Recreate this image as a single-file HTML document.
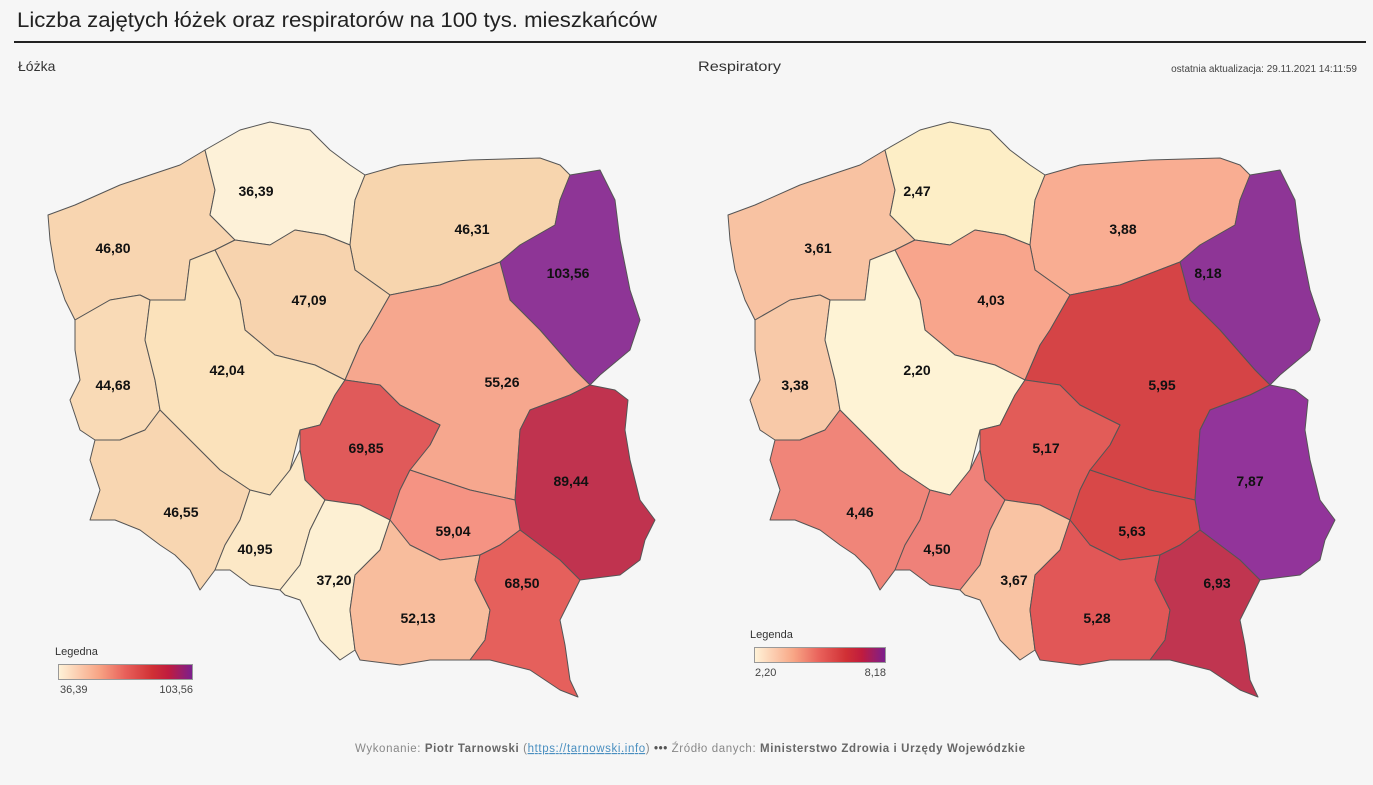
<!DOCTYPE html>
<html><head><meta charset="utf-8">
<style>
html,body{margin:0;padding:0;background:#f6f6f6;}
body{width:1373px;height:780px;overflow:hidden;font-family:"Liberation Sans",sans-serif;}
</style></head><body>
<svg width="1373" height="780" xmlns="http://www.w3.org/2000/svg" font-family="Liberation Sans, sans-serif">
<defs>
<linearGradient id="lg" x1="0" x2="1" y1="0" y2="0">
<stop offset="0" stop-color="#fff3d8"/><stop offset="0.3" stop-color="#f8a585"/><stop offset="0.5" stop-color="#e8605a"/><stop offset="0.7" stop-color="#d03035"/><stop offset="0.82" stop-color="#c01c3e"/><stop offset="1" stop-color="#7a1f8e"/>
</linearGradient>
</defs>
<rect width="1373" height="780" fill="#f6f6f6"/>
<text x="17" y="27" font-size="21" fill="#222" textLength="640" lengthAdjust="spacingAndGlyphs">Liczba zajętych łóżek oraz respiratorów na 100 tys. mieszkańców</text>
<rect x="14" y="41" width="1352" height="2" fill="#222"/>
<text x="18" y="71" font-size="14" fill="#333">Łóżka</text>
<text x="698" y="71" font-size="14" fill="#333" textLength="83" lengthAdjust="spacingAndGlyphs">Respiratory</text>
<text x="1357" y="72" font-size="10" fill="#444" text-anchor="end">ostatnia aktualizacja: 29.11.2021 14:11:59</text>

<g stroke="#555" stroke-width="1" stroke-linejoin="round">
<polygon fill="#f8d5b0" points="48,215 75,205 120,185 180,165 205,150 215,190 210,215 235,240 215,250 190,260 185,300 150,300 140,295 110,300 75,320 65,300 55,270 50,240"/>
<polygon fill="#fdf1d8" points="205,150 240,130 270,122 310,130 330,150 350,165 365,175 355,200 350,245 325,235 295,230 270,245 235,240 210,215 215,190"/>
<polygon fill="#f7d5ae" points="365,175 400,165 470,160 540,158 560,165 570,175 560,200 555,225 520,245 500,262 440,285 390,295 355,270 350,245 355,200"/>
<polygon fill="#8e3596" points="570,175 600,170 615,200 620,240 630,290 640,320 630,350 600,375 590,385 575,370 540,330 510,300 500,262 520,245 555,225 560,200"/>
<polygon fill="#f7d3ae" points="235,240 270,245 295,230 325,235 350,245 355,270 390,295 370,330 360,345 345,380 315,365 275,355 245,330 240,300 215,250"/>
<polygon fill="#f9dab6" points="75,320 110,300 140,295 150,300 145,340 155,380 160,410 145,430 120,440 95,440 80,430 70,400 80,380 75,350"/>
<polygon fill="#fbe2bb" points="150,300 185,300 190,260 215,250 240,300 245,330 275,355 315,365 345,380 335,395 320,425 300,430 290,470 270,495 250,490 220,470 190,440 160,410 155,380 145,340"/>
<polygon fill="#f6a78e" points="390,295 440,285 500,262 510,300 540,330 575,370 590,385 570,395 530,410 520,430 515,500 470,490 440,480 410,470 430,445 440,425 400,405 380,385 345,380 360,345 370,330"/>
<polygon fill="#e05a5a" points="345,380 380,385 400,405 440,425 430,445 410,470 400,490 390,520 360,505 325,500 305,480 300,450 300,430 320,425 335,395"/>
<polygon fill="#c0334f" points="590,385 615,390 628,400 625,430 630,460 640,500 655,520 645,540 640,560 620,575 580,580 560,560 540,545 520,530 515,500 520,430 530,410 570,395"/>
<polygon fill="#f59383" points="410,470 440,480 470,490 515,500 520,530 500,545 480,555 440,560 410,545 390,520 400,490"/>
<polygon fill="#f8d6b1" points="95,440 120,440 145,430 160,410 190,440 220,470 250,490 240,520 225,545 215,570 200,590 190,570 175,555 160,545 140,530 115,520 90,520 100,490 90,460"/>
<polygon fill="#fce8c6" points="250,490 270,495 290,470 300,450 305,480 325,500 310,530 300,565 280,590 250,585 230,570 215,570 225,545 240,520"/>
<polygon fill="#fdf0d3" points="325,500 360,505 390,520 380,550 355,575 350,610 355,650 340,660 320,640 300,600 285,595 280,590 300,565 310,530"/>
<polygon fill="#f8bd9d" points="390,520 410,545 440,560 480,555 475,580 490,610 485,640 470,660 430,660 400,665 360,660 355,650 350,610 355,575 380,550"/>
<polygon fill="#e5605c" points="480,555 500,545 520,530 540,545 560,560 580,580 560,620 565,645 570,680 578,697 560,690 530,670 490,660 470,660 485,640 490,610 475,580"/>
</g>
<g stroke="#555" stroke-width="1" stroke-linejoin="round" transform="translate(680,0)">
<polygon fill="#f8c2a2" points="48,215 75,205 120,185 180,165 205,150 215,190 210,215 235,240 215,250 190,260 185,300 150,300 140,295 110,300 75,320 65,300 55,270 50,240"/>
<polygon fill="#fdeec6" points="205,150 240,130 270,122 310,130 330,150 350,165 365,175 355,200 350,245 325,235 295,230 270,245 235,240 210,215 215,190"/>
<polygon fill="#f9ad92" points="365,175 400,165 470,160 540,158 560,165 570,175 560,200 555,225 520,245 500,262 440,285 390,295 355,270 350,245 355,200"/>
<polygon fill="#8e3596" points="570,175 600,170 615,200 620,240 630,290 640,320 630,350 600,375 590,385 575,370 540,330 510,300 500,262 520,245 555,225 560,200"/>
<polygon fill="#f8a58c" points="235,240 270,245 295,230 325,235 350,245 355,270 390,295 370,330 360,345 345,380 315,365 275,355 245,330 240,300 215,250"/>
<polygon fill="#f8c9a8" points="75,320 110,300 140,295 150,300 145,340 155,380 160,410 145,430 120,440 95,440 80,430 70,400 80,380 75,350"/>
<polygon fill="#fef3d5" points="150,300 185,300 190,260 215,250 240,300 245,330 275,355 315,365 345,380 335,395 320,425 300,430 290,470 270,495 250,490 220,470 190,440 160,410 155,380 145,340"/>
<polygon fill="#d54446" points="390,295 440,285 500,262 510,300 540,330 575,370 590,385 570,395 530,410 520,430 515,500 470,490 440,480 410,470 430,445 440,425 400,405 380,385 345,380 360,345 370,330"/>
<polygon fill="#e25c58" points="345,380 380,385 400,405 440,425 430,445 410,470 400,490 390,520 360,505 325,500 305,480 300,450 300,430 320,425 335,395"/>
<polygon fill="#92349a" points="590,385 615,390 628,400 625,430 630,460 640,500 655,520 645,540 640,560 620,575 580,580 560,560 540,545 520,530 515,500 520,430 530,410 570,395"/>
<polygon fill="#d84848" points="410,470 440,480 470,490 515,500 520,530 500,545 480,555 440,560 410,545 390,520 400,490"/>
<polygon fill="#f08579" points="95,440 120,440 145,430 160,410 190,440 220,470 250,490 240,520 225,545 215,570 200,590 190,570 175,555 160,545 140,530 115,520 90,520 100,490 90,460"/>
<polygon fill="#ef8179" points="250,490 270,495 290,470 300,450 305,480 325,500 310,530 300,565 280,590 250,585 230,570 215,570 225,545 240,520"/>
<polygon fill="#f9c3a3" points="325,500 360,505 390,520 380,550 355,575 350,610 355,650 340,660 320,640 300,600 285,595 280,590 300,565 310,530"/>
<polygon fill="#e15757" points="390,520 410,545 440,560 480,555 475,580 490,610 485,640 470,660 430,660 400,665 360,660 355,650 350,610 355,575 380,550"/>
<polygon fill="#c03550" points="480,555 500,545 520,530 540,545 560,560 580,580 560,620 565,645 570,680 578,697 560,690 530,670 490,660 470,660 485,640 490,610 475,580"/>
</g>

<g font-size="14" font-weight="bold" fill="#111" text-anchor="middle">
<text x="113" y="253">46,80</text>
<text x="256" y="196">36,39</text>
<text x="472" y="234">46,31</text>
<text x="568" y="278">103,56</text>
<text x="309" y="305">47,09</text>
<text x="113" y="390">44,68</text>
<text x="227" y="375">42,04</text>
<text x="502" y="387">55,26</text>
<text x="366" y="453">69,85</text>
<text x="571" y="486">89,44</text>
<text x="453" y="536">59,04</text>
<text x="181" y="517">46,55</text>
<text x="255" y="554">40,95</text>
<text x="334" y="585">37,20</text>
<text x="418" y="623">52,13</text>
<text x="522" y="588">68,50</text>

<text x="818" y="253">3,61</text>
<text x="917" y="196">2,47</text>
<text x="1123" y="234">3,88</text>
<text x="1208" y="278">8,18</text>
<text x="991" y="305">4,03</text>
<text x="795" y="390">3,38</text>
<text x="917" y="375">2,20</text>
<text x="1162" y="390">5,95</text>
<text x="1046" y="453">5,17</text>
<text x="1250" y="486">7,87</text>
<text x="1132" y="536">5,63</text>
<text x="860" y="517">4,46</text>
<text x="937" y="554">4,50</text>
<text x="1014" y="585">3,67</text>
<text x="1097" y="623">5,28</text>
<text x="1217" y="588">6,93</text>
</g>

<text x="55" y="655" font-size="11" fill="#333">Legedna</text>
<rect x="58.5" y="664.5" width="134" height="15" fill="url(#lg)" stroke="#999"/>
<text x="60" y="693" font-size="11" fill="#444">36,39</text>
<text x="193" y="693" font-size="11" fill="#444" text-anchor="end">103,56</text>

<text x="750" y="638" font-size="11" fill="#333">Legenda</text>
<rect x="754.5" y="647.5" width="131" height="15" fill="url(#lg)" stroke="#999"/>
<text x="755" y="676" font-size="11" fill="#444">2,20</text>
<text x="886" y="676" font-size="11" fill="#444" text-anchor="end">8,18</text>

<text x="355" y="752" font-size="11.5" fill="#888" textLength="670" lengthAdjust="spacing">Wykonanie: <tspan font-weight="bold" fill="#666">Piotr Tarnowski</tspan>  (<tspan fill="#4a8fc0" text-decoration="underline">https://tarnowski.info</tspan>)  <tspan font-weight="bold" fill="#555">•••</tspan>  Źródło danych: <tspan font-weight="bold" fill="#666">Ministerstwo Zdrowia i Urzędy Wojewódzkie</tspan></text>
</svg>
</body></html>
